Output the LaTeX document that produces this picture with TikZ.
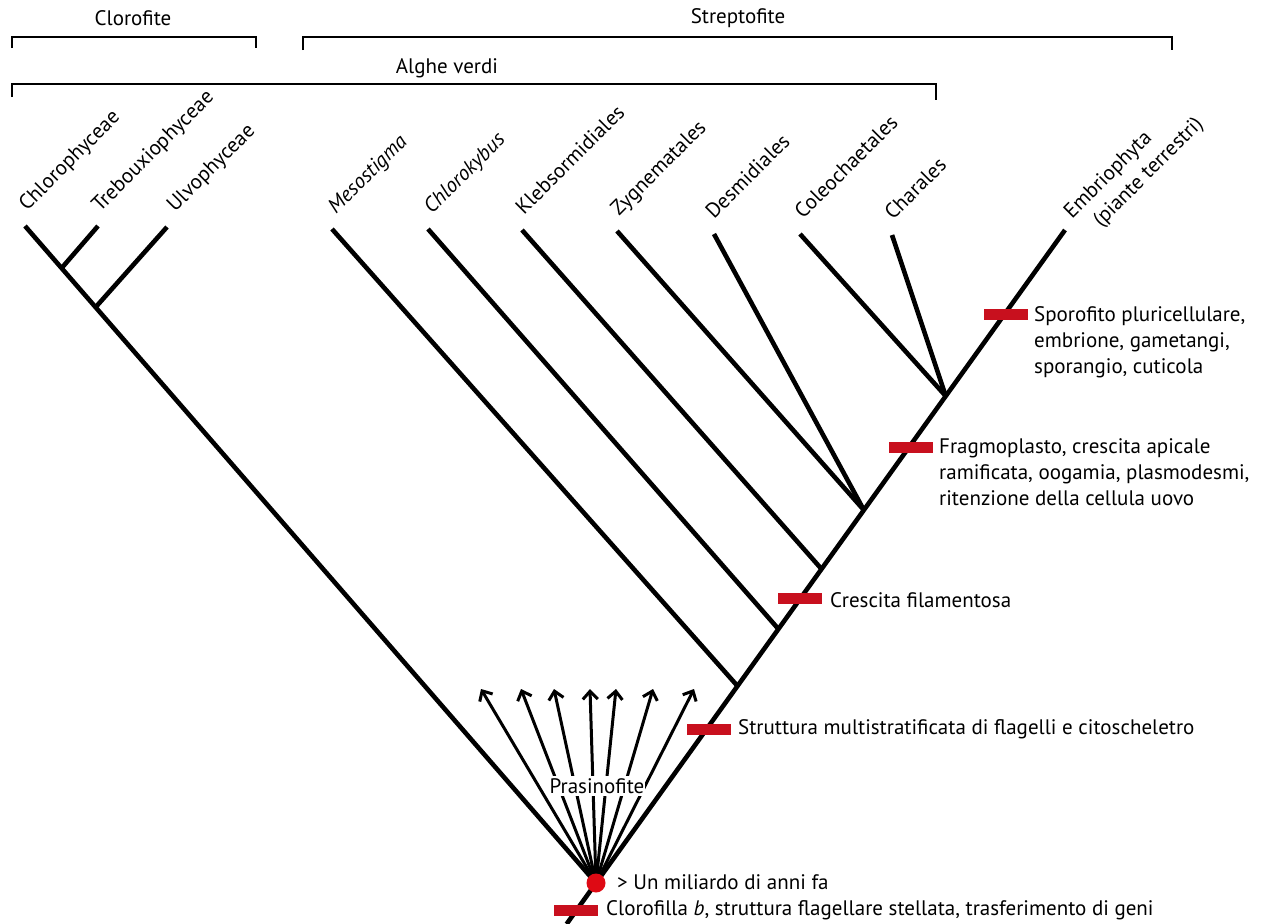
\documentclass[tikz,border=0pt]{standalone}
\usepackage{fontspec}
\setmainfont{PT Sans}
\usetikzlibrary{arrows.meta}
\definecolor{mred}{RGB}{200,16,30}
\definecolor{dotred}{RGB}{222,10,20}
\begin{document}
\begin{tikzpicture}[x=1pt,y=-1pt,
  tree/.style={line width=4.6pt},
  ray/.style={line width=3pt,-{Straight Barb[length=8pt,width=15pt,line width=3pt]}},
  bracket/.style={line width=2.2pt},
  txt/.style={font=\fontsize{21}{26}\selectfont, inner sep=0pt, text=black},
  leaf/.style={txt, rotate=45, anchor=base west},
  note/.style={txt, anchor=west, align=left},
  bar/.style={fill=mred, minimum width=44pt, minimum height=11pt, inner sep=0pt, draw=none}
]
\fill[white] (0,0) rectangle (1270,924);
\useasboundingbox (0,0) rectangle (1270,924);

% brackets
\draw[bracket] (12,48) -- (12,37) -- (256,37) -- (256,48);
\draw[bracket] (303,50) -- (303,37) -- (1172,37) -- (1172,50);
\draw[bracket] (12,97) -- (12,84) -- (936,84) -- (936,100);
\node[txt] (clorofite) at (133,18) {Clorofite};
\node[txt] (streptofite) at (738,18) {Streptofite};
\node[txt] (alghe) at (447,68) {Alghe verdi};

% coordinates
\coordinate (root) at (596,883);
\coordinate (bottom) at (566.6,924);
\coordinate (tE) at (1065,230);
\coordinate (tChlo) at (25,226);
\coordinate (tTreb) at (98,226);
\coordinate (tUlvo) at (167,227);
\coordinate (jTreb) at (61.7,268);
\coordinate (jUlvo) at (95.8,307);
\coordinate (tMeso) at (332,229);
\coordinate (tChk) at (428,229);
\coordinate (tKleb) at (522,230);
\coordinate (tZyg) at (617,231);
\coordinate (tDesm) at (714,234);
\coordinate (tColeo) at (800,234);
\coordinate (tChar) at (892,235);
\coordinate (jMeso) at (737.5,686);
\coordinate (jChk) at (778.4,629);
\coordinate (jKleb) at (821.5,569);
\coordinate (jZyg) at (863.8,510);
\coordinate (jCole) at (945.7,396);

% tree
\draw[tree] (bottom) -- (root) -- (tE);
\draw[tree] (root) -- (tChlo);
\draw[tree] (jTreb) -- (tTreb);
\draw[tree] (jUlvo) -- (tUlvo);
\draw[tree] (jMeso) -- (tMeso);
\draw[tree] (jChk) -- (tChk);
\draw[tree] (jKleb) -- (tKleb);
\draw[tree] (jZyg) -- (tZyg);
\draw[tree] (jZyg) -- (tDesm);
\draw[tree] (jCole) -- (tColeo);
\draw[tree] (jCole) -- (tChar);

% leaf labels
\node[leaf] (lChlo) at (27,212) {Chlorophyceae};
\node[leaf] (lTreb) at (100,213) {Trebouxiophyceae};
\node[leaf] (lUlvo) at (175,213) {Ulvophyceae};
\node[leaf] (lMeso) at (336,215) {\itshape Mesostigma};
\node[leaf] (lChk) at (432,215) {\itshape Chlorokybus};
\node[leaf] (lKleb) at (524,216) {Klebsormidiales};
\node[leaf] (lZyg) at (619,217) {Zygnematales};
\node[leaf] (lDesm) at (714,220) {Desmidiales};
\node[leaf] (lColeo) at (803,220) {Coleochaetales};
\node[leaf] (lChar) at (893,221) {Charales};
\node[leaf] (lE1) at (1072,220) {Embriophyta};
\node[leaf] (lE2) at (1101,228) {(piante terrestri)};

% prasinofite rays
\foreach \x [count=\i] in {481,521,554,590,616,653,694} {
  \coordinate (p\i) at (\x,689);
  \draw[ray] (root) -- (p\i);
}
\node[txt, fill=white, inner ysep=2pt, inner xsep=1pt] (pras) at (597,786) {Prasinofite};

% root dot
\node[circle, fill=dotred, minimum size=19pt, inner sep=0pt] (dot) at (root) {};

% character bars
\node[bar] (b1) at (576,910) {};
\node[bar] (b2) at (709,729) {};
\node[bar] (b3) at (800,598) {};
\node[bar] (b4) at (911,447) {};
\node[bar] (b5) at (1006,314) {};

% notes
\node[note] (n0) at (617,882) {> Un miliardo di anni fa};
\node[note] (n1) at (606,910) {Clorofilla \textit{b}, struttura flagellare stellata, trasferimento di geni};
\node[note] (n2) at (738,729) {Struttura multistratificata di flagelli e citoscheletro};
\node[note] (n3) at (830,600) {Crescita filamentosa};
\node[note, anchor=north west] (n4) at (939,438) {Fragmoplasto, crescita apicale\\ramificata, oogamia, plasmodesmi,\\ritenzione della cellula uovo};
\node[note, anchor=north west] (n5) at (1034,306) {Sporofito pluricellulare,\\embrione, gametangi,\\sporangio, cuticola};
\end{tikzpicture}
\end{document}
